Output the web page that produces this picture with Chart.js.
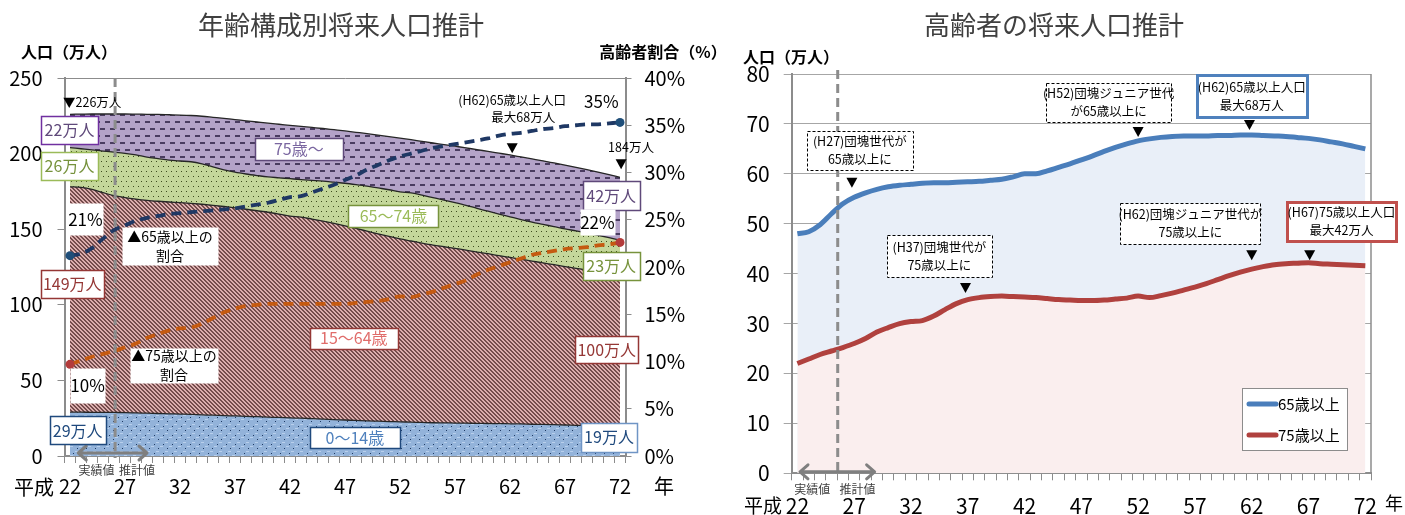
<!DOCTYPE html>
<html lang="ja">
<head>
<meta charset="utf-8">
<title>将来人口推計</title>
<script src="https://cdn.jsdelivr.net/npm/chart.js@4.4.1/dist/chart.umd.min.js"></script>
<style>
  html, body { margin: 0; padding: 0; background: #fff; }
  body { width: 1405px; height: 515px; position: relative; overflow: hidden; }
  #left { position: absolute; left: 0; top: 0; z-index: 2; }
  #right { position: absolute; left: 700px; top: 0; z-index: 1; }
</style>
</head>
<body>
<canvas id="left" width="740" height="515"></canvas>
<canvas id="right" width="705" height="515"></canvas>
<script>
// 平成22年〜72年
const years = ['22','23','24','25','26','27','28','29','30','31',
  '32','33','34','35','36','37','38','39','40','41',
  '42','43','44','45','46','47','48','49','50','51',
  '52','53','54','55','56','57','58','59','60','61',
  '62','63','64','65','66','67','68','69','70','71',
  '72'];
const tickYears = ['22','27','32','37','42','47','52','57','62','67','72'];

// 年齢3区分別人口（万人）
const age0to14 = [29.0, 29.0, 28.9, 28.9, 28.8, 28.7, 28.5, 28.3, 28.1, 27.9,
  27.7, 27.5, 27.2, 27.0, 26.7, 26.5, 26.2, 26.0, 25.7, 25.5,
  25.2, 25.0, 24.7, 24.4, 24.1, 23.8, 23.5, 23.2, 23.0, 22.8,
  22.6, 22.4, 22.2, 22.0, 21.9, 21.8, 21.7, 21.6, 21.5, 21.4,
  21.3, 21.2, 21.0, 20.9, 20.7, 20.5, 20.3, 20.1, 19.9, 19.6,
  19.3];
const age15to64 = [149.0, 148.7, 147.5, 145.3, 143.4, 142.2, 141.4, 140.8, 140.4, 140.1,
  139.9, 139.6, 139.3, 138.8, 138.3, 137.6, 137.0, 136.2, 135.5, 134.5,
  133.5, 133.0, 132.0, 130.9, 129.7, 128.4, 127.0, 125.5, 123.9, 122.4,
  121.0, 119.8, 118.6, 117.5, 116.5, 115.5, 114.5, 113.3, 112.3, 111.1,
  110.0, 108.9, 107.9, 106.8, 105.8, 104.8, 103.8, 102.9, 101.9, 101.0,
  100.0];
const age65to74 = [26.0, 25.5, 26.0, 27.5, 28.8, 29.3, 29.2, 28.6, 28.2, 27.7,
  27.5, 27.5, 26.7, 25.4, 24.3, 23.6, 23.3, 23.3, 23.4, 24.0,
  24.7, 24.8, 25.6, 26.5, 27.3, 28.2, 29.0, 29.8, 30.4, 30.9,
  31.1, 31.8, 31.7, 31.4, 30.9, 30.3, 29.6, 28.9, 28.1, 27.5,
  26.9, 26.3, 25.8, 25.5, 25.2, 24.9, 24.8, 24.5, 24.2, 23.8,
  23.4];

// 高齢者人口（万人）
const over65 = [48.0, 48.4, 49.8, 52.0, 54.0, 55.3, 56.2, 56.9, 57.4, 57.7,
  57.9, 58.1, 58.2, 58.2, 58.3, 58.4, 58.5, 58.7, 58.9, 59.4,
  60.0, 60.0, 60.6, 61.3, 62.0, 62.8, 63.6, 64.5, 65.3, 66.0,
  66.6, 67.0, 67.3, 67.5, 67.6, 67.6, 67.6, 67.7, 67.7, 67.8,
  67.8, 67.7, 67.6, 67.5, 67.3, 67.1, 66.8, 66.4, 66.0, 65.5,
  65.0];
const over75 = [22.0, 22.9, 23.8, 24.5, 25.2, 26.0, 27.0, 28.3, 29.2, 30.0,
  30.4, 30.6, 31.5, 32.8, 34.0, 34.8, 35.2, 35.4, 35.5, 35.4,
  35.3, 35.2, 35.0, 34.8, 34.7, 34.6, 34.6, 34.7, 34.9, 35.1,
  35.5, 35.2, 35.6, 36.1, 36.7, 37.3, 38.0, 38.8, 39.6, 40.3,
  40.9, 41.4, 41.8, 42.0, 42.1, 42.2, 42.0, 41.9, 41.8, 41.7,
  41.6];

// 高齢者割合（%）
const ratio65 = [21.2, 21.4, 22.0, 23.0, 23.9, 24.4, 24.9, 25.2, 25.4, 25.6,
  25.7, 25.8, 25.9, 26.0, 26.1, 26.2, 26.4, 26.6, 26.8, 27.1,
  27.4, 27.5, 27.9, 28.3, 28.7, 29.2, 29.7, 30.3, 30.8, 31.3,
  31.7, 32.0, 32.3, 32.6, 32.8, 33.0, 33.2, 33.4, 33.6, 33.9,
  34.1, 34.2, 34.4, 34.6, 34.7, 34.9, 35.0, 35.1, 35.1, 35.2,
  35.3];
const ratio75 = [9.7, 10.1, 10.5, 10.8, 11.1, 11.5, 11.9, 12.5, 12.9, 13.3,
  13.5, 13.6, 14.0, 14.6, 15.2, 15.6, 15.9, 16.0, 16.1, 16.1,
  16.1, 16.1, 16.1, 16.1, 16.1, 16.1, 16.2, 16.3, 16.4, 16.6,
  16.9, 16.8, 17.1, 17.4, 17.8, 18.2, 18.6, 19.2, 19.7, 20.1,
  20.5, 20.9, 21.3, 21.5, 21.7, 21.9, 22.0, 22.1, 22.3, 22.4,
  22.6];

const FONT = '"Noto Sans CJK JP", "Noto Sans", sans-serif';
Chart.defaults.font.family = FONT;
Chart.defaults.color = '#000';

// 塗りつぶし用のパターン
function tile(w, h, bg, paint) {
  const c = document.createElement('canvas');
  c.width = w; c.height = h;
  const g = c.getContext('2d');
  g.fillStyle = bg;
  g.fillRect(0, 0, w, h);
  paint(g);
  return g.createPattern(c, 'repeat');
}
const patBlue = tile(9, 9, '#93b3da', g => {
  g.fillStyle = '#b8cfec';
  g.fillRect(3, 1, 3, 1); g.fillRect(7, 5, 2, 1); g.fillRect(0, 5, 1, 1);
  g.fillStyle = '#1f3a63';
  g.fillRect(1, 3, 1, 1); g.fillRect(5, 7, 1, 1);
});
const patPink = tile(4, 4, '#dcaeae', g => {
  g.fillStyle = '#744c4c';
  for (let i = 0; i < 4; i++) { g.fillRect(i, i, 1, 1); g.fillRect((i + 1) % 4, i, 1, 1); }
});
const patGreen = tile(10, 10, '#c4d79b', g => {
  g.fillStyle = '#3d4c1e';
  g.fillRect(1, 1, 1, 1); g.fillRect(6, 1, 1, 1);
  g.fillRect(3, 6, 1, 1); g.fillRect(8, 6, 1, 1);
});
const patPurple = tile(10, 14, '#b4a3c8', g => {
  g.fillStyle = '#4a3c60';
  g.fillRect(0, 2, 5, 2); g.fillRect(5, 9, 5, 2);
});

// 描画ヘルパー
function label(ctx, lines, cx, cy, o = {}) {
  const size = o.size || 14, lh = o.lh || size * 1.3;
  ctx.save();
  if (o.w) {
    const x0 = Math.round(cx - o.w / 2) + 0.5, y0 = Math.round(cy - o.h / 2) + 0.5;
    ctx.fillStyle = '#fff';
    ctx.fillRect(x0, y0, o.w, o.h);
    if (o.border) {
      ctx.strokeStyle = o.border;
      ctx.lineWidth = o.lw || 1.5;
      ctx.setLineDash(o.dash || []);
      ctx.strokeRect(x0, y0, o.w, o.h);
    }
  }
  ctx.setLineDash([]);
  ctx.fillStyle = o.color || '#000';
  ctx.font = `${o.weight || 'normal'} ${size}px ${FONT}`;
  ctx.textAlign = o.align || 'center';
  ctx.textBaseline = 'middle';
  const top = cy - (lines.length - 1) * lh / 2;
  lines.forEach((t, k) => ctx.fillText(t, cx, top + k * lh));
  ctx.restore();
}
function tri(ctx, x, y) {
  ctx.save();
  ctx.fillStyle = '#000';
  ctx.beginPath();
  ctx.moveTo(x - 5.5, y - 5); ctx.lineTo(x + 5.5, y - 5); ctx.lineTo(x, y + 5);
  ctx.closePath(); ctx.fill();
  ctx.restore();
}
function twoWayArrow(ctx, x1, x2, y) {
  ctx.save();
  ctx.strokeStyle = '#7f7f7f'; ctx.lineWidth = 3;
  ctx.lineCap = 'round'; ctx.lineJoin = 'round';
  ctx.beginPath();
  ctx.moveTo(x1, y); ctx.lineTo(x2, y);
  ctx.moveTo(x1 + 8, y - 7); ctx.lineTo(x1, y); ctx.lineTo(x1 + 8, y + 7);
  ctx.moveTo(x2 - 8, y - 7); ctx.lineTo(x2, y); ctx.lineTo(x2 - 8, y + 7);
  ctx.stroke();
  ctx.restore();
}
function vDash(ctx, x, top, bottom) {
  ctx.save();
  ctx.strokeStyle = '#8c8c8c'; ctx.lineWidth = 3;
  ctx.setLineDash([9, 5]);
  ctx.beginPath(); ctx.moveTo(x, top); ctx.lineTo(x, bottom); ctx.stroke();
  ctx.restore();
}

function xAxis(height, pad, size) {
  return {
    offset: true,
    grid: { offset: true, drawOnChartArea: false, tickLength: 7, tickColor: '#8c8c8c' },
    border: { color: '#8c8c8c', width: 2 },
    ticks: {
      autoSkip: false, maxRotation: 0, padding: pad, font: { size: size },
      callback: function (v) { const t = this.getLabelForValue(v); return tickYears.includes(t) ? t : ''; }
    },
    afterFit: s => { s.height = height; }
  };
}

// 左：年齢構成別将来人口推計
const leftDecor = {
  id: 'leftDecor',
  afterDatasetsDraw(chart) {
    const { ctx, chartArea: a, scales: { x } } = chart;
    vDash(ctx, x.getPixelForValue(4.1), a.top, a.bottom + 2);
  },
  afterDraw(chart) {
    const { ctx, chartArea: a, scales: { x, y } } = chart;
    const px = i => x.getPixelForValue(i), py = v => y.getPixelForValue(v);

    label(ctx, ['年齢構成別将来人口推計'], 341, 25, { size: 26, color: '#404040' });
    label(ctx, ['人口（万人）'], 69, 52, { size: 16, weight: 'bold' });
    label(ctx, ['高齢者割合（%）'], 663, 52, { size: 16, weight: 'bold' });
    label(ctx, ['平成'], 34, 487, { size: 20 });
    label(ctx, ['年'], 664, 486, { size: 20 });

    twoWayArrow(ctx, px(0.75), px(7), a.bottom - 3);
    label(ctx, ['実績値'], px(2.4), a.bottom + 14, { size: 12, color: '#404040' });
    label(ctx, ['推計値'], px(6.1), a.bottom + 14, { size: 12, color: '#404040' });

    label(ctx, ['▼226万人'], px(0) - 7, py(234), { size: 12.5, align: 'left' });
    label(ctx, ['22万人'], px(0) - 0.5, py(215.5), { w: 57, h: 28, border: '#7030a0', color: '#5f497a', size: 16 });
    label(ctx, ['26万人'], px(0) - 0.5, py(191.7), { w: 57, h: 28, border: '#9bbb59', color: '#76923c', size: 16 });
    label(ctx, ['21%'], px(1.4), py(156.6), { w: 36, h: 32, size: 17 });
    label(ctx, ['▲65歳以上の', '割合'], px(9.1), py(138.8), { w: 96, h: 38, size: 14, lh: 19 });
    label(ctx, ['149万人'], px(0.2), py(113.7), { w: 63, h: 28, border: '#953735', color: '#953735', size: 16 });
    label(ctx, ['▲75歳以上の', '割合'], px(9.45), py(60.1), { w: 88, h: 35, size: 14, lh: 19 });
    label(ctx, ['10%'], px(1.6), py(46.9), { w: 35, h: 35, size: 17 });
    label(ctx, ['29万人'], px(0.7), py(16.9), { w: 56, h: 28, border: '#1f497d', color: '#1f497d', size: 16 });

    label(ctx, ['75歳～'], px(20.8), py(202.9), { w: 88, h: 22, border: '#5f497a', color: '#7a66a0', size: 16 });
    label(ctx, ['65～74歳'], px(29.4), py(158.6), { w: 90, h: 22, border: '#77933c', color: '#9bbb59', size: 16 });
    label(ctx, ['15～64歳'], px(25.8), py(78), { w: 88, h: 21, border: '#953735', color: '#e06c6a', size: 16 });
    label(ctx, ['0～14歳'], px(25.9), py(12.2), { w: 90, h: 21, border: '#1f497d', color: '#4f81bd', size: 16 });

    label(ctx, ['(H62)65歳以上人口'], px(40.2), py(235.3), { size: 12.5 });
    label(ctx, ['最大68万人'], px(41.2), py(224), { size: 12.5 });
    tri(ctx, px(40.2), py(203.6));
    label(ctx, ['35%'], px(48.3), py(234.6), { size: 17 });
    label(ctx, ['184万人'], px(51), py(204.2), { size: 12.5 });
    tri(ctx, px(50.1), py(193));
    label(ctx, ['42万人'], px(49.2), py(172.2), { w: 57, h: 29, border: '#5f497a', color: '#5f497a', size: 16 });
    label(ctx, ['22%'], px(47.95), py(154.7), { w: 35, h: 26, size: 17 });
    label(ctx, ['23万人'], px(49.2), py(125.6), { w: 57, h: 28, border: '#77933c', color: '#77933c', size: 16 });
    label(ctx, ['100万人'], px(48.8), py(70.3), { w: 63, h: 27, border: '#953735', color: '#953735', size: 16 });
    label(ctx, ['19万人'], px(49.0), py(12.4), { w: 56, h: 29, border: '#6f95c5', color: '#1f497d', size: 16 });
  }
};

const endPoint = ctx => (ctx.dataIndex === 0 || ctx.dataIndex === years.length - 1) ? 4.5 : 0;
const area = (lbl, data, fill, bg) => ({
  label: lbl, data, fill, backgroundColor: bg, borderColor: '#262626', borderWidth: 1.3,
  pointRadius: 0, yAxisID: 'y', order: 1, cubicInterpolationMode: 'monotone'
});
const ratioLine = (lbl, data, color, dot) => ({
  label: lbl, data, fill: false, borderColor: color, borderWidth: 3.8, borderDash: [10, 6],
  pointRadius: endPoint, pointBackgroundColor: dot, pointBorderWidth: 0,
  yAxisID: 'y2', order: 0, cubicInterpolationMode: 'monotone'
});

new Chart(document.getElementById('left'), {
  type: 'line',
  data: {
    labels: years,
    datasets: [
      area('0～14歳', age0to14, 'origin', patBlue),
      area('15～64歳', age15to64, '-1', patPink),
      area('65～74歳', age65to74, '-1', patGreen),
      area('75歳～', over75, '-1', patPurple),
      ratioLine('65歳以上の割合', ratio65, '#1f3864', '#1f4e79'),
      ratioLine('75歳以上の割合', ratio75, '#c55a11', '#b33b3b')
    ]
  },
  options: {
    responsive: false, animation: false,
    layout: { padding: { top: 78, right: 40, left: 0, bottom: 0 } },
    plugins: { legend: { display: false }, tooltip: { enabled: false } },
    scales: {
      x: xAxis(59, 11, 20),
      y: {
        stacked: true, min: 0, max: 250,
        ticks: { stepSize: 50, padding: 15, font: { size: 20 } },
        grid: { color: c => c.tick.value === 250 ? '#8c8c8c' : 'rgba(0,0,0,0)', tickLength: 7, tickColor: '#8c8c8c' },
        border: { color: '#8c8c8c', width: 2 },
        afterFit: s => { s.width = 64.5; }
      },
      y2: {
        position: 'right', min: 0, max: 40,
        ticks: { stepSize: 5, padding: 13, font: { size: 20 }, callback: v => v + '%' },
        grid: { drawOnChartArea: false, tickLength: 6, tickColor: '#8c8c8c' },
        border: { color: '#8c8c8c', width: 2 },
        afterFit: s => { s.width = 74.5; }
      }
    }
  },
  plugins: [leftDecor]
});

// 右：高齢者の将来人口推計
const rightDecor = {
  id: 'rightDecor',
  afterDatasetsDraw(chart) {
    const { ctx, chartArea: a, scales: { x } } = chart;
    ctx.save();
    ctx.strokeStyle = '#8c8c8c'; ctx.lineWidth = 1.5;
    ctx.beginPath(); ctx.moveTo(a.right, a.top); ctx.lineTo(a.right, a.bottom); ctx.stroke();
    ctx.restore();
    vDash(ctx, x.getPixelForValue(3.55), a.top - 4, a.bottom);
  },
  afterDraw(chart) {
    const { ctx, chartArea: a, scales: { x, y } } = chart;
    const px = i => x.getPixelForValue(i), py = v => y.getPixelForValue(v);

    label(ctx, ['高齢者の将来人口推計'], 354, 25, { size: 26, color: '#404040' });
    label(ctx, ['人口（万人）'], 91, 57, { size: 16, weight: 'bold' });
    label(ctx, ['平成'], 63, 506, { size: 19 });
    label(ctx, ['年'], 694, 503, { size: 18 });

    twoWayArrow(ctx, px(0.23), px(6.8), a.bottom - 1.5);
    label(ctx, ['実績値'], px(1.3), a.bottom + 16, { size: 12, color: '#404040' });
    label(ctx, ['推計値'], px(5.3), a.bottom + 16, { size: 12, color: '#404040' });

    const dashed = { dash: [3, 2], border: '#000', lw: 1, size: 12.5, lh: 18 };
    label(ctx, ['(H27)団塊世代が', '65歳以上に'], px(5.5), py(64.7), { ...dashed, w: 106, h: 39 });
    tri(ctx, px(4.8), py(58.2));
    label(ctx, ['(H37)団塊世代が', '75歳以上に'], px(12.5), py(43.5), { ...dashed, w: 105, h: 42 });
    tri(ctx, px(14.8), py(37.1));
    label(ctx, ['(H52)団塊ジュニア世代', 'が65歳以上に'], px(27.4), py(74.3), { ...dashed, w: 125, h: 39 });
    tri(ctx, px(30), py(68.4));
    label(ctx, ['(H62)65歳以上人口', '最大68万人'], px(40), py(75.6), { w: 110, h: 42, border: '#4f81bd', lw: 3, size: 12.5, lh: 18 });
    tri(ctx, px(39.8), py(69.8));
    label(ctx, ['(H62)団塊ジュニア世代が', '75歳以上に'], px(34.6), py(50.1), { ...dashed, w: 140, h: 41 });
    tri(ctx, px(40), py(43.7));
    label(ctx, ['(H67)75歳以上人口', '最大42万人'], px(47.9), py(50.5), { w: 109, h: 39, border: '#c0504d', lw: 3, size: 12.5, lh: 18 });
    tri(ctx, px(45.1), py(43.7));

    // 凡例
    ctx.save();
    ctx.fillStyle = '#fff';
    ctx.fillRect(542.5, 388.5, 105, 62);
    ctx.strokeStyle = '#8c8c8c'; ctx.lineWidth = 1;
    ctx.strokeRect(542.5, 388.5, 105, 62);
    ctx.lineWidth = 5; ctx.lineCap = 'round';
    chart.data.datasets.forEach((ds, k) => {
      const ly = 404 + k * 31;
      ctx.strokeStyle = ds.borderColor;
      ctx.beginPath(); ctx.moveTo(549, ly); ctx.lineTo(576, ly); ctx.stroke();
      label(ctx, [ds.label], 578, ly, { size: 15, align: 'left' });
    });
    ctx.restore();
  }
};

new Chart(document.getElementById('right'), {
  type: 'line',
  data: {
    labels: years,
    datasets: [
      { label: '65歳以上', data: over65, borderColor: '#4a7ebb', backgroundColor: '#e9eff8',
        fill: 'origin', borderWidth: 5, pointRadius: 0, order: 2, cubicInterpolationMode: 'monotone' },
      { label: '75歳以上', data: over75, borderColor: '#b0413e', backgroundColor: '#faeeee',
        fill: 'origin', borderWidth: 5, pointRadius: 0, order: 1, cubicInterpolationMode: 'monotone' }
    ]
  },
  options: {
    responsive: false, animation: false,
    layout: { padding: { top: 74, right: 34, left: 0, bottom: 0 } },
    plugins: { legend: { display: false }, tooltip: { enabled: false } },
    scales: {
      x: xAxis(515 - 473.3, 13, 21),
      y: {
        min: 0, max: 80,
        ticks: { stepSize: 10, padding: 14, font: { size: 21 } },
        grid: { color: '#a6a6a6', tickLength: 8, tickColor: '#a6a6a6' },
        border: { color: '#8c8c8c', width: 2 },
        afterFit: s => { s.width = 91.7; }
      }
    }
  },
  plugins: [rightDecor]
});
</script>
</body>
</html>
